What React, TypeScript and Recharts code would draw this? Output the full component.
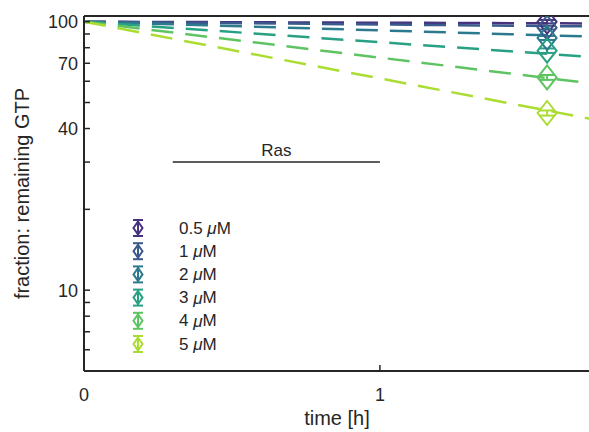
import React from 'react';
import { ComposedChart, Line, Scatter, ErrorBar, XAxis, YAxis, ReferenceLine, Legend } from 'recharts';

// Ras concentrations and their colours
const concentrations = ['0.5', '1', '2', '3', '4', '5'];
const colors = ['#46327e', '#3b5a8c', '#2d7a8e', '#27a083', '#5ec461', '#aadc32'];

// fitted decay lines (start / end of visible range)
const fitTimes = [0, 1.71];
const fitStart = [100, 100, 100, 100, 100, 100];
const fitEnd = [98.5, 96, 88, 74, 59, 43.5];

// measured points
const measuredTime = 1.565;
const measured = [100, 95, 87, 78, 62, 45.7];
const measuredErr = [1.5, 1.5, 1.5, 1.5, 1.3, 1.0];

const yTicks = [6, 7, 8, 9, 10, 20, 30, 40, 50, 60, 70, 80, 90, 100];
const yLabelled = [10, 40, 70, 100];
const xTicks = [0, 1];
const xDomain = [0, 1.71];
const yDomain = [5, 105];

const rasFrom = 0.3;
const rasTo = 1;
const rasLevel = 30;

const INK = '#262626';
const FONT = '"Liberation Sans", Arial, Helvetica, sans-serif';

const Diamond = (props: any) => {
  const { cx, cy, stroke } = props;
  if (cx == null || cy == null) return null;
  const w = 9.5;
  const h = 12;
  return (
    <polygon
      points={`${cx},${cy - h} ${cx + w},${cy} ${cx},${cy + h} ${cx - w},${cy}`}
      fill="none"
      stroke={stroke}
      strokeWidth={2}
    />
  );
};

const LegendBox = () => (
  <svg width={150} height={150} style={{ fontFamily: FONT, display: 'block' }}>
    {concentrations.map((c, i) => {
      const y = 14 + i * 23.2;
      const x = 12;
      return (
        <g key={c}>
          <line x1={x} y1={y - 8} x2={x} y2={y + 8} stroke={colors[i]} strokeWidth={2} />
          <line x1={x - 5} y1={y - 8} x2={x + 5} y2={y - 8} stroke={colors[i]} strokeWidth={2} />
          <line x1={x - 5} y1={y + 8} x2={x + 5} y2={y + 8} stroke={colors[i]} strokeWidth={2} />
          <polygon
            points={`${x},${y - 6.5} ${x + 4.5},${y} ${x},${y + 6.5} ${x - 4.5},${y}`}
            fill="none"
            stroke={colors[i]}
            strokeWidth={2}
          />
          <text x={53} y={y} dominantBaseline="central" fontSize={17} fill={INK}>
            {c + ' '}
            <tspan fontStyle="italic">μ</tspan>M
          </text>
        </g>
      );
    })}
  </svg>
);

export default function App() {
  return (
    <div style={{ position: 'absolute', left: 0, top: 0, width: 589, height: 432, overflow: 'hidden', background: '#fff' }}>
      <ComposedChart width={600} height={432} margin={{ top: 0, right: 0, bottom: 0, left: 0 }} style={{ fontFamily: FONT }}>
        <XAxis
          xAxisId="t"
          orientation="top"
          type="number"
          domain={xDomain}
          ticks={xTicks}
          height={16}
          tick={false}
          tickSize={-6}
          axisLine={{ stroke: INK, strokeWidth: 2 }}
          tickLine={{ stroke: INK, strokeWidth: 1.5 }}
          allowDataOverflow
        />
        <XAxis
          xAxisId="b"
          dataKey="t"
          type="number"
          domain={xDomain}
          ticks={xTicks}
          height={61}
          tickSize={-6}
          tickMargin={23}
          axisLine={{ stroke: INK, strokeWidth: 2 }}
          tickLine={{ stroke: INK, strokeWidth: 1.5 }}
          tick={{ fill: INK, fontSize: 18 }}
          allowDataOverflow
          label={(p: any) => {
            const vb = p.viewBox;
            return (
              <text x={vb.x + vb.width / 2} y={418} textAnchor="middle" dominantBaseline="central" fontSize={20} fill={INK}>
                time [h]
              </text>
            );
          }}
        />
        <YAxis
          yAxisId="l"
          dataKey="v"
          scale="log"
          type="number"
          domain={yDomain}
          ticks={yTicks}
          width={84}
          tickSize={-6}
          tickMargin={12}
          interval={0}
          axisLine={{ stroke: INK, strokeWidth: 2 }}
          tickLine={{ stroke: INK, strokeWidth: 1.5 }}
          tick={{ fill: INK, fontSize: 18 }}
          tickFormatter={(v: number) => (yLabelled.includes(v) ? String(v) : '')}
          allowDataOverflow
          label={(p: any) => {
            const vb = p.viewBox;
            const cy = vb.y + vb.height / 2;
            return (
              <text x={22} y={cy} transform={`rotate(-90 22 ${cy})`} textAnchor="middle" dominantBaseline="central" fontSize={20} fill={INK}>
                fraction: remaining GTP
              </text>
            );
          }}
        />
        <YAxis
          yAxisId="r"
          orientation="right"
          scale="log"
          type="number"
          domain={yDomain}
          ticks={yTicks}
          width={10}
          tickSize={-6}
          interval={0}
          tick={false}
          axisLine={{ stroke: INK, strokeWidth: 2 }}
          tickLine={{ stroke: INK, strokeWidth: 1.5 }}
          allowDataOverflow
        />
        <ReferenceLine
          xAxisId="b"
          yAxisId="l"
          segment={[{ x: rasFrom, y: rasLevel }, { x: rasTo, y: rasLevel }]}
          stroke={INK}
          strokeWidth={1.5}
          label={{ value: 'Ras', position: 'top', fill: INK, fontSize: 17, offset: 6 }}
        />
        {concentrations.map((c, i) => (
          <Line
            key={'fit' + c}
            xAxisId="b"
            yAxisId="l"
            data={[
              { t: fitTimes[0], v: fitStart[i] },
              { t: fitTimes[1], v: fitEnd[i] },
            ]}
            dataKey="v"
            type="linear"
            stroke={colors[i]}
            strokeWidth={2.5}
            strokeDasharray="22 12"
            dot={false}
            activeDot={false}
            legendType="none"
            isAnimationActive={false}
          />
        ))}
        {concentrations.map((c, i) => (
          <Scatter
            key={'pt' + c}
            name={c + ' μM'}
            xAxisId="b"
            yAxisId="l"
            data={[{ t: measuredTime, v: measured[i], e: measuredErr[i] }]}
            dataKey="v"
            stroke={colors[i]}
            fill="none"
            shape={<Diamond />}
            isAnimationActive={false}
          >
            <ErrorBar dataKey="e" direction="y" width={8} stroke={colors[i]} strokeWidth={2} isAnimationActive={false} />
          </Scatter>
        ))}
        <Legend
          layout="vertical"
          verticalAlign="middle"
          align="center"
          content={() => <LegendBox />}
          wrapperStyle={{ left: 126, top: 214, width: 150 }}
        />
      </ComposedChart>
    </div>
  );
}
